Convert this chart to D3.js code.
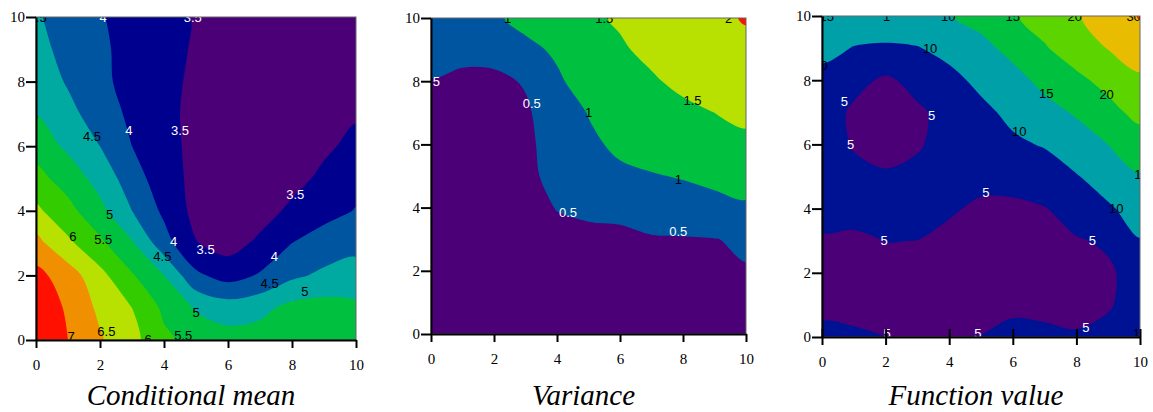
<!DOCTYPE html>
<html>
<head>
<meta charset="utf-8">
<script src="https://cdn.jsdelivr.net/npm/d3@7/dist/d3.min.js"></script>
<style>
  body { margin: 0; background: #fff; }
  svg { display: block; }
</style>
</head>
<body>
<svg id="chart" width="1153" height="412"></svg>
<script>
// grids: rows go from y=10 (top) down to y=0, columns x=0..10
const meanGrid = [
  [4.55, 4.3, 4.04, 3.8, 3.63, 3.47, 3.3, 3.2, 3.15, 3.15, 3.2],
  [4.65, 4.35, 4.08, 3.85, 3.65, 3.45, 3.25, 3.1, 3.05, 3.1, 3.2],
  [4.8, 4.45, 4.1, 3.85, 3.62, 3.42, 3.2, 3.05, 3.0, 3.1, 3.25],
  [4.98, 4.65, 4.25, 3.9, 3.62, 3.38, 3.2, 3.1, 3.1, 3.25, 3.45],
  [5.3, 4.9, 4.5, 4.0, 3.65, 3.38, 3.2, 3.15, 3.2, 3.42, 3.62],
  [5.65, 5.3, 4.8, 4.25, 3.7, 3.38, 3.2, 3.2, 3.35, 3.6, 3.85],
  [6.1, 5.65, 5.15, 4.5, 3.9, 3.35, 3.15, 3.3, 3.6, 3.85, 4.02],
  [6.65, 6.1, 5.6, 5.05, 4.2, 3.52, 3.3, 3.6, 4.0, 4.2, 4.35],
  [7.15, 6.75, 6.15, 5.55, 5.0, 4.1, 3.8, 4.05, 4.4, 4.6, 4.7],
  [7.5, 6.9, 6.4, 6.0, 5.4, 4.95, 4.75, 4.85, 5.15, 5.2, 5.1],
  [7.8, 7.0, 6.55, 6.15, 5.6, 5.3, 5.2, 5.25, 5.35, 5.4, 5.35]
];
const meanLevels = [3.5, 4, 4.5, 5, 5.5, 6, 6.5, 7];
const meanColors = ["#4b0078", "#00008e", "#0055a0", "#00aaa0", "#00c040", "#33cc00", "#b8e000", "#f09000", "#ff1000"];
const meanLabels = [
  [0.05, 9.97, "4.5", "k"], [2.1, 9.97, "4", "w"], [4.9, 9.97, "3.5", "w"],
  [-0.05, 6.95, "5", "k"], [1.75, 6.3, "4.5", "k"], [2.9, 6.5, "4", "w"],
  [4.5, 6.5, "3.5", "w"], [8.1, 4.5, "3.5", "w"], [2.3, 3.9, "5", "k"],
  [1.15, 3.2, "6", "k"], [2.1, 3.1, "5.5", "k"], [4.3, 3.05, "4", "w"],
  [3.95, 2.6, "4.5", "k"], [5.3, 2.8, "3.5", "w"], [7.45, 2.6, "4", "w"],
  [7.3, 1.75, "4.5", "k"], [8.4, 1.5, "5", "k"], [5.0, 0.85, "5", "k"],
  [1.1, 0.12, "7", "k"], [2.2, 0.25, "6.5", "k"], [3.5, 0.03, "6", "k"], [4.6, 0.15, "5.5", "k"]
];

const varGrid = [
  [0.65, 0.8, 0.95, 1.1, 1.25, 1.42, 1.55, 1.68, 1.8, 1.88, 2.04],
  [0.58, 0.58, 0.63, 0.92, 1.05, 1.25, 1.45, 1.6, 1.72, 1.8, 1.87],
  [0.49, 0.44, 0.42, 0.53, 0.95, 1.15, 1.3, 1.45, 1.6, 1.7, 1.78],
  [0.3, 0.25, 0.3, 0.45, 0.7, 1.02, 1.2, 1.3, 1.4, 1.5, 1.55],
  [0.2, 0.15, 0.2, 0.4, 0.7, 0.9, 1.1, 1.2, 1.3, 1.38, 1.45],
  [0.15, 0.1, 0.15, 0.38, 0.65, 0.8, 0.9, 0.97, 1.03, 1.1, 1.15],
  [0.1, 0.08, 0.1, 0.3, 0.52, 0.58, 0.62, 0.75, 0.8, 0.88, 0.95],
  [0.08, 0.06, 0.08, 0.2, 0.35, 0.4, 0.4, 0.46, 0.47, 0.49, 0.55],
  [0.06, 0.05, 0.06, 0.15, 0.25, 0.3, 0.32, 0.35, 0.38, 0.42, 0.48],
  [0.05, 0.04, 0.05, 0.1, 0.2, 0.22, 0.25, 0.27, 0.3, 0.33, 0.38],
  [0.05, 0.04, 0.05, 0.08, 0.15, 0.18, 0.2, 0.22, 0.25, 0.28, 0.3]
];
const varLevels = [0.5, 1, 1.5, 2];
const varColors = ["#4b0078", "#0055a0", "#00c040", "#b8e000", "#ff1000"];
const varLabels = [
  [2.43, 9.97, "1", "k"], [5.5, 9.97, "1.5", "k"], [9.45, 9.97, "2", "k"],
  [0.0, 8.0, "0.5", "w"], [3.2, 7.3, "0.5", "w"], [5.0, 7.0, "1", "k"],
  [8.3, 7.4, "1.5", "k"], [7.85, 4.88, "1", "k"], [4.35, 3.83, "0.5", "w"],
  [7.85, 3.25, "0.5", "w"]
];

const funcGrid = [
  [11.5, 11.5, 11.5, 13, 14.8, 16.5, 19.5, 22, 24.5, 27.5, 30.3],
  [10.8, 9.9, 9.7, 9.8, 11.3, 13.8, 16.3, 19.6, 22.5, 25.2, 28.0],
  [9.1, 6.5, 4.2, 6.5, 8.8, 11.0, 13.5, 16.2, 18.9, 21.5, 24.0],
  [7.5, 4.2, 3.0, 4.3, 6.5, 9.0, 11.0, 13.5, 15.5, 18.5, 21.5],
  [7.0, 4.7, 3.5, 4.6, 6.5, 8.0, 9.3, 10.3, 12.8, 15.0, 17.5],
  [6.8, 6.0, 5.5, 6.0, 6.8, 6.2, 6.5, 8.0, 9.7, 12.2, 14.7],
  [6.5, 6.0, 6.0, 6.0, 5.5, 4.3, 4.2, 4.8, 6.8, 9.4, 12.0],
  [4.5, 4.5, 5.05, 4.98, 4.0, 3.0, 2.8, 3.3, 4.7, 5.5, 9.8],
  [4.0, 4.0, 4.3, 4.0, 3.2, 2.5, 2.3, 2.6, 3.3, 4.5, 6.5],
  [4.2, 4.0, 3.8, 3.5, 3.0, 2.8, 3.6, 3.6, 3.8, 4.6, 7.0],
  [5.8, 5.5, 5.02, 4.5, 4.7, 5.15, 7.0, 6.2, 5.4, 6.3, 9.0]
];
const funcLevels = [5, 10, 15, 20, 25, 30];
const funcColors = ["#4b0078", "#001294", "#00a0a8", "#00c040", "#5cd400", "#e8bc00", "#ff2000"];
const funcLabels = [
  [0.15, 9.97, "15", "k"], [2.03, 9.97, "1", "k"], [3.97, 9.97, "10", "k"],
  [6.0, 9.97, "15", "k"], [7.95, 9.97, "20", "k"], [9.8, 9.97, "30", "k"],
  [-0.05, 8.45, "10", "k"], [3.4, 9.0, "10", "k"], [0.7, 7.35, "5", "w"],
  [3.45, 6.9, "5", "w"], [0.9, 6.0, "5", "w"], [7.05, 7.6, "15", "k"],
  [8.95, 7.55, "20", "k"], [6.2, 6.4, "10", "k"], [10.05, 5.05, "15", "k"],
  [9.25, 4.0, "10", "k"], [5.15, 4.5, "5", "w"], [1.95, 3.0, "5", "w"],
  [8.5, 3.0, "5", "w"], [8.3, 0.3, "5", "w"], [2.05, 0.1, "5", "w"],
  [4.9, 0.12, "5", "w"], [10.0, 0.1, "10", "k"]
];

const tickValues = [0, 2, 4, 6, 8, 10];
const titles = ["Conditional mean", "Variance", "Function value"];

const svg = d3.select("#chart");

const panels = [
  { id: "mean", grid: meanGrid, levels: meanLevels, colors: meanColors, labels: meanLabels,
    left: 36, right: 356, top: 17, bottom: 340, title: titles[0], innerTicks: false },
  { id: "var", grid: varGrid, levels: varLevels, colors: varColors, labels: varLabels,
    left: 431, right: 746, top: 18, bottom: 334, title: titles[1], innerTicks: false },
  { id: "func", grid: funcGrid, levels: funcLevels, colors: funcColors, labels: funcLabels,
    left: 822, right: 1140, top: 16, bottom: 337, title: titles[2], innerTicks: true }
];

function drawPanel(p) {
  const x = d3.scaleLinear().domain([0, 10]).range([p.left, p.right]);
  const y = d3.scaleLinear().domain([0, 10]).range([p.bottom, p.top]);

  const n = p.grid[0].length, m = p.grid.length;
  const bands = d3.contours().size([n, m]).thresholds(p.levels)(p.grid.flat());

  svg.append("clipPath").attr("id", "clip-" + p.id)
    .append("rect")
      .attr("x", p.left).attr("y", p.top)
      .attr("width", p.right - p.left).attr("height", p.bottom - p.top);

  const g = svg.append("g").attr("clip-path", `url(#clip-${p.id})`);

  g.append("rect")
    .attr("x", p.left).attr("y", p.top)
    .attr("width", p.right - p.left).attr("height", p.bottom - p.top)
    .attr("fill", p.colors[0]);

  // grid cell centres sit at index + 0.5 in contour space
  const toPx = pt => [x(pt[0] - 0.5), y(10.5 - pt[1])];
  const line = d3.line().curve(d3.curveCatmullRomClosed.alpha(0.5));

  bands.forEach((c, i) => {
    const d = c.coordinates.map(poly =>
      poly.map(ring => line(ring.slice(0, -1).map(toPx))).join("")
    ).join("");
    g.append("path")
      .attr("d", d)
      .attr("fill", p.colors[i + 1])
      .attr("fill-rule", "evenodd");
  });

  g.selectAll("text.lbl").data(p.labels).enter().append("text")
    .attr("class", "lbl")
    .attr("x", d => x(d[0]))
    .attr("y", d => y(d[1]))
    .attr("text-anchor", "middle")
    .attr("dominant-baseline", "central")
    .attr("font-family", "Liberation Sans, Arial, sans-serif")
    .attr("font-size", 13)
    .attr("fill", d => d[3] === "w" ? "#fff" : "#000")
    .text(d => d[2]);

  // frame
  svg.append("rect")
    .attr("x", p.left).attr("y", p.top)
    .attr("width", p.right - p.left).attr("height", p.bottom - p.top)
    .attr("fill", "none").attr("stroke", "#666").attr("stroke-width", 1);

  const yAxis = d3.axisLeft(y).tickValues(tickValues).tickSize(10).tickSizeOuter(0).tickPadding(1);
  const xAxis = d3.axisBottom(x).tickValues(tickValues).tickSize(8).tickSizeOuter(0).tickPadding(11);

  const yG = svg.append("g").attr("transform", `translate(${p.left},0)`).call(yAxis);
  const xG = svg.append("g").attr("transform", `translate(0,${p.bottom})`).call(xAxis);

  [yG, xG].forEach(a => {
    a.attr("font-family", "Liberation Serif, Times New Roman, serif").attr("font-size", 15);
    a.select(".domain").attr("stroke", "#000").attr("stroke-width", 2);
    a.selectAll(".tick line").attr("stroke", "#000").attr("stroke-width", 2);
    a.selectAll(".tick text").attr("fill", "#000");
  });
  if (p.innerTicks) xG.selectAll(".tick line").attr("y1", -8);

  svg.append("text")
    .attr("x", (p.left + p.right) / 2 - 5)
    .attr("y", 405)
    .attr("text-anchor", "middle")
    .attr("font-family", "Liberation Serif, Times New Roman, serif")
    .attr("font-style", "italic")
    .attr("font-size", 29)
    .attr("fill", "#000")
    .text(p.title);
}

panels.forEach(drawPanel);
</script>
</body>
</html>
